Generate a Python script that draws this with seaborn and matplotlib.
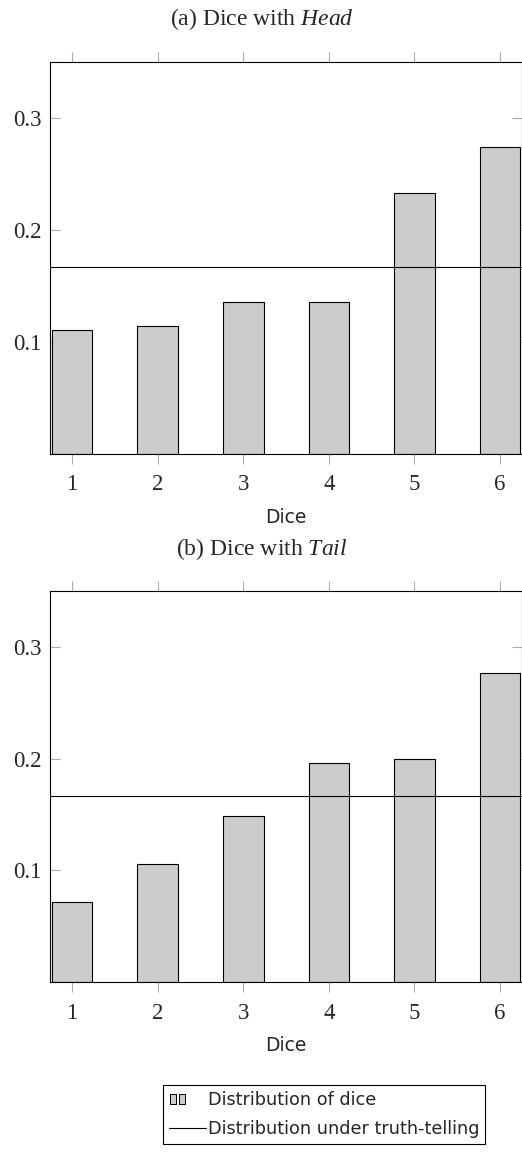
import pandas as pd
import matplotlib
matplotlib.use('Agg')
import matplotlib.pyplot as plt
import seaborn as sns
from matplotlib.lines import Line2D
from matplotlib.legend_handler import HandlerTuple

# data
dice = ['1', '2', '3', '4', '5', '6']
head = [0.110, 0.114, 0.135, 0.135, 0.233, 0.274]
tail = [0.072, 0.106, 0.149, 0.196, 0.200, 0.277]
truth = 1 / 6
yticks = [0.1, 0.2, 0.3]
titles = ['(a) Dice with $\\it{Head}$', '(b) Dice with $\\it{Tail}$']

sns.set_theme(style='white')
plt.rcParams['font.family'] = ['Liberation Serif', 'DejaVu Serif']
plt.rcParams['mathtext.fontset'] = 'custom'
plt.rcParams['mathtext.rm'] = 'Liberation Serif'
plt.rcParams['mathtext.it'] = 'Liberation Serif:italic'

W, H = 522, 1154
fig = plt.figure(figsize=(W / 100, H / 100), dpi=100)


def box(l, t, r, b):
    return [l / W, 1 - b / H, (r - l) / W, (b - t) / H]


ax1 = fig.add_axes(box(50, 62, 521.5, 453.5))
ax2 = fig.add_axes(box(50, 591, 521.5, 982))

for ax, vals, title, ty in [(ax1, head, titles[0], 19), (ax2, tail, titles[1], 549)]:
    df = pd.DataFrame({'Dice': dice, 'p': vals})
    sns.barplot(data=df, x='Dice', y='p', ax=ax, color='#cccccc', saturation=1,
                width=0.474, edgecolor='black', linewidth=0.8)
    ax.axhline(truth, color='black', lw=0.8)
    ax.set_xlim(-0.257, 5.25)
    ax.set_ylim(0, 0.35)
    ax.set_yticks(yticks)
    ax.set_yticklabels([str(t) for t in yticks])
    ax.tick_params(axis='x', direction='out', length=7.5, width=0.8, color='#aaaaaa',
                   top=True, bottom=True, labelsize=16.5, pad=7.5)
    ax.tick_params(axis='y', direction='in', length=7.5, width=0.8, color='#aaaaaa',
                   left=True, right=True, labelsize=16.5, pad=6)
    for s in ax.spines.values():
        s.set_visible(True)
        s.set_color('black')
        s.set_linewidth(0.8)
    ax.set_ylabel('')
    ax.set_xlabel('Dice', family='DejaVu Sans', fontsize=13.5, labelpad=9)
    fig.text(0.502, 1 - ty / H, title, ha='center', va='center', fontsize=17)

# legend
rect = [(-0.33, -0.5), (0.33, -0.5), (0.33, 0.5), (-0.33, 0.5), (-0.33, -0.5)]
bar_a = Line2D([], [], marker=rect, linestyle='none', markersize=7.5,
               markerfacecolor='#cccccc', markeredgecolor='black', markeredgewidth=0.7)
bar_b = Line2D([], [], marker=rect, linestyle='none', markersize=7.5,
               markerfacecolor='#cccccc', markeredgecolor='black', markeredgewidth=0.7)
line = Line2D([], [], color='black', lw=0.8)
leg = fig.legend(handles=[(bar_a, bar_b), line],
                 labels=['Distribution of dice', 'Distribution under truth-telling'],
                 handler_map={tuple: HandlerTuple(ndivide=4, pad=0.12)},
                 loc='upper left', bbox_to_anchor=(163 / W, 1 - 1085 / H),
                 frameon=True, fancybox=False, edgecolor='black', framealpha=1,
                 prop={'family': 'DejaVu Sans', 'size': 12.7},
                 handlelength=2.1, handletextpad=0.12, borderpad=0.33,
                 labelspacing=0.66, borderaxespad=0)
leg.get_frame().set_linewidth(0.8)

fig.savefig('out.png', dpi=100)
